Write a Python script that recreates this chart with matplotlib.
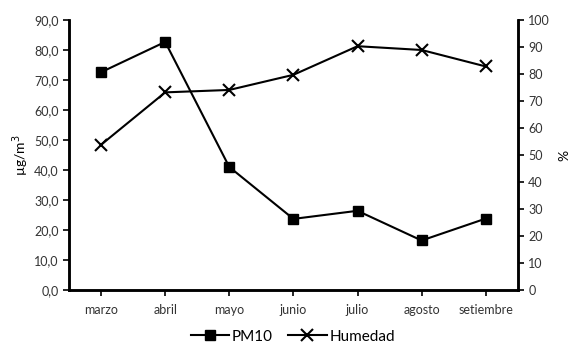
import matplotlib.pyplot as plt
from matplotlib.ticker import FuncFormatter

plt.rcParams['font.family'] = ['Lato', 'DejaVu Sans']

meses = ['marzo', 'abril', 'mayo', 'junio', 'julio', 'agosto', 'setiembre']
pm10 = [72.6, 82.7, 41.0, 23.7, 26.4, 16.5, 23.8]
humedad = [53.8, 73.2, 74.1, 79.7, 90.3, 88.9, 82.8]

x = list(range(len(meses)))

fig = plt.figure(figsize=(5.69, 3.47), dpi=100)
ax = fig.add_axes([0.1213, 0.1643, 0.7887, 0.778])
ax2 = ax.twinx()

l1, = ax.plot(x, pm10, color='black', lw=1.5, marker='s', ms=7, label='PM10')
l2, = ax2.plot(x, humedad, color='black', lw=1.5, marker='x', ms=8, mew=1.5, label='Humedad')

ax.set_xlim(-0.5, len(meses) - 0.5)
ax.set_ylim(0, 90)
ax.set_yticks(range(0, 91, 10))
ax.yaxis.set_major_formatter(FuncFormatter(lambda v, p: f'{v:.1f}'.replace('.', ',')))
ax2.set_ylim(0, 100)
ax2.set_yticks(range(0, 101, 10))

ax.set_xticks(x)
ax.set_xticklabels(meses)

for a in (ax, ax2):
    a.spines['top'].set_visible(False)
    for s in ('left', 'right', 'bottom'):
        a.spines[s].set_linewidth(1.8)
    a.tick_params(labelsize=9, width=1.2, length=4, colors='black', labelcolor='#333333')
ax.tick_params(axis='x', pad=6)

ax.set_ylabel('µg/m$^3$', fontsize=10, labelpad=2)
ax2.set_ylabel('%', fontsize=10, labelpad=6)

fig.legend(handles=[l1, l2], loc='lower center', ncol=2, frameon=False,
           bbox_to_anchor=(0.515, -0.03), fontsize=11, handlelength=2.5,
           columnspacing=1.0, handletextpad=0.2)

fig.savefig('out.png', dpi=100)
